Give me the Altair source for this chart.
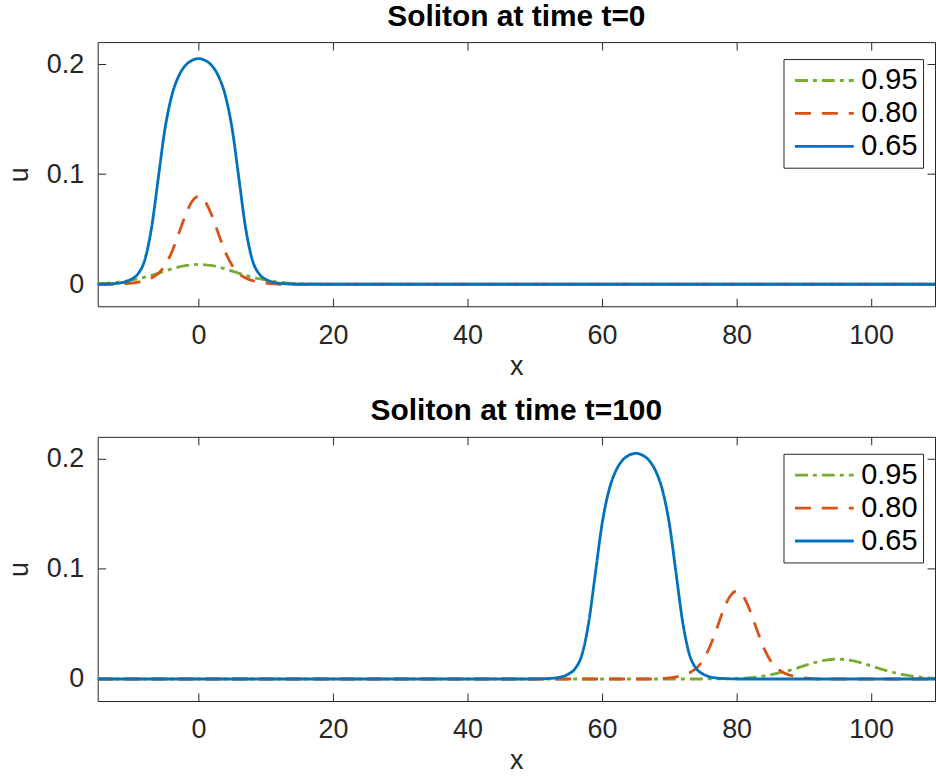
import altair as alt
import pandas as pd

SERIES = ["0.95", "0.80", "0.65"]
COLORS = ["#77AC30", "#D95319", "#0072BD"]
DASHES = [[13, 5, 4, 5], [16, 11], [1, 0]]

X_TICKS = [0, 20, 40, 60, 80, 100]
Y_TICKS = [0, 0.1, 0.2]

# ---- t = 0 ----
x_t0_green = [-15, -14, -13, -12, -11, -10, -9, -8, -7, -6, -5, -4, -3, -2, -1, 0,
              1, 2, 3, 4, 5, 6, 7, 8, 9, 10, 11, 12, 13, 14, 15, 20, 110]
u_t0_green = [0.0005, 0.0008, 0.0012, 0.0019, 0.0027, 0.0037, 0.0050, 0.0065, 0.0081, 0.0099,
              0.0119, 0.0139, 0.0156, 0.0169, 0.0177, 0.0180, 0.0177, 0.0169, 0.0156, 0.0139,
              0.0119, 0.0099, 0.0081, 0.0065, 0.0050, 0.0037, 0.0027, 0.0019, 0.0012, 0.0008,
              0.0005, 0.0, 0.0]

x_t0_orange = [-15, -12, -11, -10, -9, -8, -7, -6, -5, -4, -3, -2, -1, 0,
               1, 2, 3, 4, 5, 6, 7, 8, 9, 10, 11, 12, 110]
u_t0_orange = [0.0, 0.0, 0.0005, 0.001, 0.002, 0.0033, 0.0057, 0.0097, 0.017, 0.029, 0.045,
               0.062, 0.075, 0.080, 0.075, 0.062, 0.045, 0.029, 0.017, 0.0097, 0.0057, 0.0033,
               0.002, 0.001, 0.0005, 0.0, 0.0]

x_t0_blue = [-15, -14, -13, -12, -11, -10, -9, -8, -7, -6, -5, -4, -3, -2, -1, 0,
             1, 2, 3, 4, 5, 6, 7, 8, 9, 10, 11, 12, 13, 14, 15, 110]
u_t0_blue = [0.0, 0.0001, 0.0004, 0.0009, 0.002, 0.0045, 0.0095, 0.022, 0.051, 0.096, 0.141,
             0.171, 0.1885, 0.1985, 0.2033, 0.205, 0.2033, 0.1985, 0.1885, 0.171, 0.141, 0.096,
             0.051, 0.022, 0.0095, 0.0045, 0.002, 0.0009, 0.0004, 0.0001, 0.0, 0.0]

# ---- t = 100 ----
x_t100_green = [-15, 75, 80, 81, 82, 83, 84, 85, 86, 87, 88, 89, 90, 91, 92, 93, 94, 95,
                96, 97, 98, 99, 100, 101, 102, 103, 104, 105, 106, 107, 108, 109, 110]
u_t100_green = [0.0, 0.0, 0.0005, 0.0008, 0.0012, 0.0019, 0.0027, 0.0037, 0.0050, 0.0065,
                0.0081, 0.0099, 0.0119, 0.0139, 0.0156, 0.0169, 0.0177, 0.0180, 0.0177, 0.0169,
                0.0156, 0.0139, 0.0119, 0.0099, 0.0081, 0.0065, 0.0050, 0.0037, 0.0027, 0.0019,
                0.0012, 0.0008, 0.0005]

x_t100_orange = [-15, 68, 69, 70, 71, 72, 73, 74, 75, 76, 77, 78, 79, 80,
                 81, 82, 83, 84, 85, 86, 87, 88, 89, 90, 91, 92, 110]
u_t100_orange = [0.0, 0.0, 0.0005, 0.001, 0.002, 0.0033, 0.0057, 0.0097, 0.017, 0.029, 0.045,
                 0.062, 0.075, 0.080, 0.075, 0.062, 0.045, 0.029, 0.017, 0.0097, 0.0057, 0.0033,
                 0.002, 0.001, 0.0005, 0.0, 0.0]

x_t100_blue = [-15, 50, 51, 52, 53, 54, 55, 56, 57, 58, 59, 60, 61, 62, 63, 64, 65,
               66, 67, 68, 69, 70, 71, 72, 73, 74, 75, 76, 77, 78, 79, 80, 110]
u_t100_blue = [0.0, 0.0, 0.0001, 0.0004, 0.0009, 0.002, 0.0045, 0.0095, 0.022, 0.051, 0.096,
               0.141, 0.171, 0.1885, 0.1985, 0.2033, 0.205, 0.2033, 0.1985, 0.1885, 0.171, 0.141,
               0.096, 0.051, 0.022, 0.0095, 0.0045, 0.002, 0.0009, 0.0004, 0.0001, 0.0, 0.0]


def frame(parts):
    rows = []
    for name, xs, us in parts:
        for a, b in zip(xs, us):
            rows.append({"x": a, "u": b, "series": name})
    return pd.DataFrame(rows)


df0 = frame([("0.95", x_t0_green, u_t0_green),
             ("0.80", x_t0_orange, u_t0_orange),
             ("0.65", x_t0_blue, u_t0_blue)])
df100 = frame([("0.95", x_t100_green, u_t100_green),
               ("0.80", x_t100_orange, u_t100_orange),
               ("0.65", x_t100_blue, u_t100_blue)])

FONT = "Liberation Sans"
AX = "#262626"
W, H = 840, 265


def panel(df, title):
    xs = alt.Scale(domain=[-15, 109.5], nice=False, zero=False)
    ys = alt.Scale(domain=[-0.02, 0.22], nice=False, zero=False)
    leg = alt.Legend(orient="none", legendX=688, legendY=17, title=None,
                     symbolType="stroke", symbolSize=3481, symbolStrokeWidth=2.8,
                     labelFontSize=29, labelFont=FONT, labelColor="black",
                     padding=5, symbolOffset=5, strokeColor=AX, fillColor="white",
                     clipHeight=33, rowPadding=0, labelOffset=6, cornerRadius=0)
    color = alt.Color("series:N", scale=alt.Scale(domain=SERIES, range=COLORS), legend=leg)
    dash = alt.StrokeDash("series:N", scale=alt.Scale(domain=SERIES, range=DASHES), legend=leg)

    layers = []
    for s in SERIES:
        layers.append(
            alt.Chart(df).transform_filter(alt.datum.series == s)
            .mark_line(clip=True, strokeWidth=2.8, interpolate="monotone")
            .encode(x=alt.X("x:Q", scale=xs, axis=None),
                    y=alt.Y("u:Q", scale=ys, axis=None),
                    color=color, strokeDash=dash)
        )
    main_axes = alt.Chart(df).mark_point(opacity=0, size=1, clip=True).encode(
        x=alt.X("x:Q", scale=xs, axis=alt.Axis(
            orient="bottom", values=X_TICKS, title="x", format="d",
            tickSize=8, offset=-8, domain=False, grid=False,
            labelPadding=16, titlePadding=5)),
        y=alt.Y("u:Q", scale=ys, axis=alt.Axis(
            orient="left", values=Y_TICKS, title="u", format="~g",
            tickSize=8, offset=-8, domain=False, grid=False,
            labelPadding=14, titlePadding=13)),
    )
    box_axes = alt.Chart(df).mark_point(opacity=0, size=1, clip=True).encode(
        x=alt.X("x:Q", scale=xs, axis=alt.Axis(
            orient="top", values=X_TICKS, title=None, labels=False,
            tickSize=8, offset=-8, domain=False, grid=False, minExtent=0, maxExtent=0)),
        y=alt.Y("u:Q", scale=ys, axis=alt.Axis(
            orient="right", values=Y_TICKS, title=None, labels=False,
            tickSize=8, offset=-8, domain=False, grid=False, minExtent=0, maxExtent=0)),
    )
    return alt.layer(main_axes, box_axes, *layers).resolve_axis(
        x="independent", y="independent"
    ).properties(
        width=W, height=H,
        title=alt.TitleParams(title, fontSize=30, fontWeight="bold", font=FONT,
                              color="black", anchor="middle", baseline="alphabetic",
                              offset=-14),
    )


top = panel(df0, "Soliton at time t=0")
bottom = panel(df100, "Soliton at time t=100")

chart = alt.vconcat(top, bottom, spacing=16).resolve_scale(
    color="independent", strokeDash="independent"
).resolve_legend(
    color="independent", strokeDash="independent"
).properties(
    padding={"left": 4, "top": 0, "right": 0, "bottom": 0}, background="white"
).configure_view(
    stroke=AX, strokeWidth=1
).configure_axis(
    labelFont=FONT, labelFontSize=27, labelColor=AX,
    titleFont=FONT, titleFontSize=27, titleColor=AX, titleFontWeight="normal",
    tickColor=AX, tickWidth=1,
)

chart.save("out.html", embed_options={"renderer": "svg", "actions": False})
